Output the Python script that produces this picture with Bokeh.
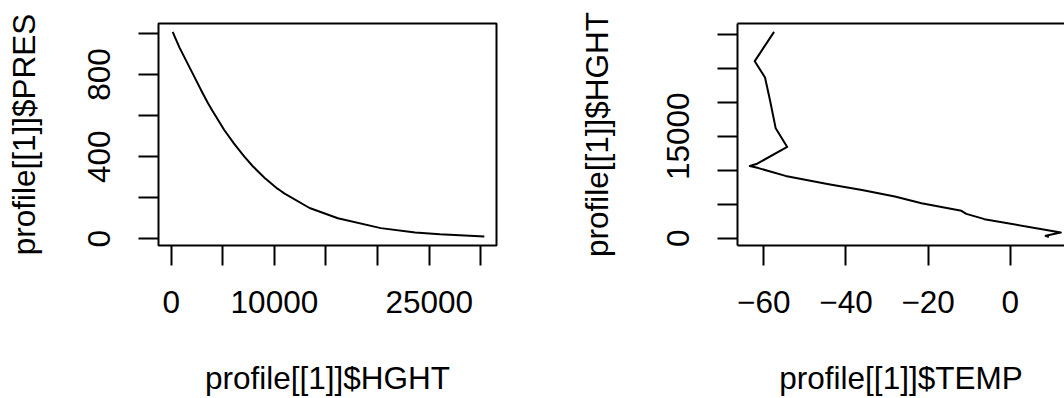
from bokeh.plotting import figure
from bokeh.models import Range1d, FixedTicker, LinearAxis
from bokeh.layouts import row
from bokeh.embed import file_html
from bokeh.resources import INLINE

# Sounding profile values
hght = [147, 340, 820, 2790, 2940, 3570, 4010, 5140, 6110, 7090, 7930, 9150,
        10300, 10600, 10950, 13410, 16150, 20310, 23640, 26030, 30340]
temp = [9.4, 8.6, 12.3, -6.3, -7.1, -10.7, -11.9, -21.6, -28.1, -36.1, -44.2, -54.7,
        -61.3, -63.4, -61.6, -54.3, -57.1, -58.5, -59.7, -62.2, -57.5]
pres = [1008, 985, 930, 735, 720, 660, 622, 530, 462, 400, 352, 292,
        244, 234, 221, 150, 100, 52, 31, 22, 11]

# Tick marks and labels
hght_ticks_left = [0, 5000, 10000, 15000, 20000, 25000, 30000]
hght_labels_left = {0: "0", 10000: "10000", 25000: "25000"}
pres_ticks = [0, 200, 400, 600, 800, 1000]
pres_labels = {0: "0", 400: "400", 800: "800"}
hght_ticks_right = [0, 5000, 10000, 15000, 20000, 25000, 30000]
hght_labels_right = {0: "0", 15000: "15000"}
temp_ticks = [-60, -40, -20, 0]
temp_labels = {-60: "\u221260", -40: "\u221240", -20: "\u221220", 0: "0"}

FONT = "Liberation Sans"
FS = "31.5px"


def style_axis(ax, ticks, labels, standoff, label_standoff, vertical=False):
    ax.ticker = FixedTicker(ticks=ticks)
    ax.major_label_overrides = {t: labels.get(t, "") for t in ticks}
    ax.major_tick_in = 0
    ax.major_tick_out = 20
    ax.major_tick_line_width = 2
    ax.major_tick_line_color = "black"
    ax.minor_tick_line_color = None
    ax.major_label_text_font = FONT
    ax.major_label_text_font_size = FS
    ax.major_label_text_color = "black"
    ax.major_label_standoff = standoff
    ax.axis_label_text_font = FONT
    ax.axis_label_text_font_size = FS
    ax.axis_label_text_font_style = "normal"
    ax.axis_label_text_color = "black"
    ax.axis_label_standoff = label_standoff
    if vertical:
        ax.major_label_orientation = "vertical"


# Left panel: PRES vs HGHT
p1 = figure(width=575, height=398, output_backend="svg", toolbar_location=None,
            x_range=Range1d(-1229, 31520), y_range=Range1d(-32.6, 1048.6),
            min_border_left=158, min_border_right=79, min_border_top=23,
            min_border_bottom=153)
p1.line(hght, pres, line_color="black", line_width=2, line_join="round")
p1.xgrid.visible = False
p1.ygrid.visible = False
p1.outline_line_color = "black"
p1.outline_line_width = 2
p1.outline_line_alpha = 1
p1.xaxis.axis_label = "profile[[1]]$HGHT"
p1.yaxis.axis_label = "profile[[1]]$PRES"
style_axis(p1.xaxis[0], hght_ticks_left, hght_labels_left, 25, 44)
style_axis(p1.yaxis[0], pres_ticks, pres_labels, 28, 44, vertical=True)
p1.xaxis.axis_line_color = None
p1.yaxis.axis_line_color = None

# Right panel: HGHT vs TEMP
p2 = figure(width=489, height=398, output_backend="svg", toolbar_location=None,
            x_range=Range1d(-66.4, 13.2), y_range=Range1d(-1087, 31571),
            min_border_left=160, min_border_right=0, min_border_top=23,
            min_border_bottom=153)
p2.line(temp, hght, line_color="black", line_width=2, line_join="round")
p2.xgrid.visible = False
p2.ygrid.visible = False
p2.outline_line_color = None
p2.xaxis.axis_label = "profile[[1]]$TEMP"
p2.yaxis.axis_label = "profile[[1]]$HGHT"
style_axis(p2.xaxis[0], temp_ticks, temp_labels, 25, 44)
style_axis(p2.yaxis[0], hght_ticks_right, hght_labels_right, 28, 50, vertical=True)
p2.xaxis.axis_line_color = "black"
p2.xaxis.axis_line_width = 2
p2.yaxis.axis_line_color = "black"
p2.yaxis.axis_line_width = 2
top = LinearAxis(major_tick_line_color=None, minor_tick_line_color=None,
                 major_label_text_font_size="0px", axis_line_color="black",
                 axis_line_width=2, major_label_standoff=0)
top.major_label_text_color = None
p2.add_layout(top, "above")

layout = row(p1, p2)
open("out.html", "w").write(file_html(layout, INLINE))
